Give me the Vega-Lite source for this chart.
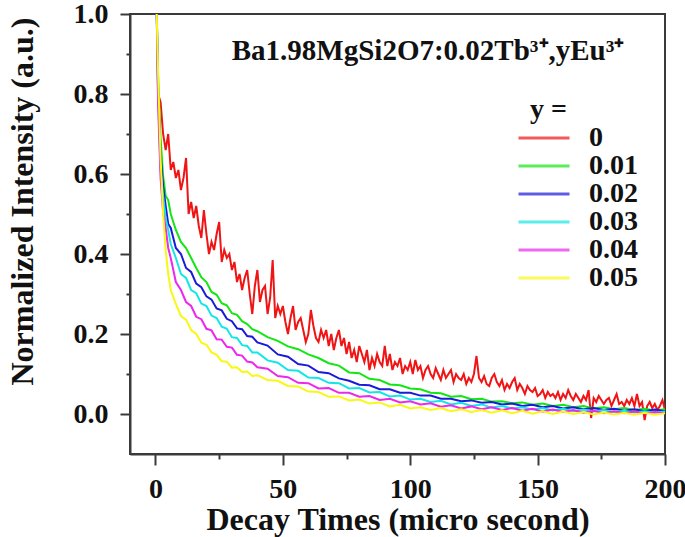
{
  "$schema": "https://vega.github.io/schema/vega-lite/v6.json",
  "width": 535,
  "height": 440,
  "autosize": {"type": "none"},
  "padding": {"left": 130, "top": 14, "right": 20, "bottom": 83},
  "background": "white",
  "config": {
    "view": {"stroke": "#3a3a3a", "strokeWidth": 2},
    "font": "Liberation Serif",
    "axis": {
      "grid": false,
      "domainColor": "#3a3a3a", "domainWidth": 2,
      "tickColor": "#3a3a3a", "tickWidth": 2,
      "labelFont": "Liberation Serif", "labelFontWeight": "bold", "labelFontSize": 28, "labelColor": "#111",
      "titleFont": "Liberation Serif", "titleFontWeight": "bold", "titleFontSize": 32, "titleColor": "#111",
      "labelOverlap": false, "labelFlush": false
    }
  },
  "layer": [
    {
      "data": {"values": [
        {"t":1,"conc":"0","v":0.8},{"t":2,"conc":"0","v":0.78},{"t":3,"conc":"0","v":0.7},{"t":4,"conc":"0","v":0.66},{"t":5,"conc":"0","v":0.7},
        {"t":6,"conc":"0","v":0.61},{"t":7,"conc":"0","v":0.63},{"t":8,"conc":"0","v":0.59},{"t":9,"conc":"0","v":0.61},{"t":10,"conc":"0","v":0.56},
        {"t":11,"conc":"0","v":0.59},{"t":12,"conc":"0","v":0.64},{"t":13,"conc":"0","v":0.5},{"t":14,"conc":"0","v":0.53},{"t":15,"conc":"0","v":0.49},
        {"t":16,"conc":"0","v":0.52},{"t":17,"conc":"0","v":0.47},{"t":18,"conc":"0","v":0.44},{"t":19,"conc":"0","v":0.51},{"t":20,"conc":"0","v":0.45},
        {"t":21,"conc":"0","v":0.4},{"t":22,"conc":"0","v":0.43},{"t":23,"conc":"0","v":0.41},{"t":24,"conc":"0","v":0.45},{"t":25,"conc":"0","v":0.48},
        {"t":26,"conc":"0","v":0.38},{"t":27,"conc":"0","v":0.41},{"t":28,"conc":"0","v":0.39},{"t":29,"conc":"0","v":0.4},{"t":30,"conc":"0","v":0.36},
        {"t":31,"conc":"0","v":0.38},{"t":32,"conc":"0","v":0.33},{"t":33,"conc":"0","v":0.35},{"t":34,"conc":"0","v":0.31},{"t":35,"conc":"0","v":0.34},
        {"t":36,"conc":"0","v":0.36},{"t":37,"conc":"0","v":0.3},{"t":38,"conc":"0","v":0.25},{"t":39,"conc":"0","v":0.32},{"t":40,"conc":"0","v":0.36},
        {"t":41,"conc":"0","v":0.28},{"t":42,"conc":"0","v":0.31},{"t":43,"conc":"0","v":0.32},{"t":44,"conc":"0","v":0.25},{"t":45,"conc":"0","v":0.29},
        {"t":46,"conc":"0","v":0.385},{"t":47,"conc":"0","v":0.24},{"t":48,"conc":"0","v":0.27},{"t":49,"conc":"0","v":0.25},{"t":50,"conc":"0","v":0.27},
        {"t":51,"conc":"0","v":0.23},{"t":52,"conc":"0","v":0.2},{"t":53,"conc":"0","v":0.24},{"t":54,"conc":"0","v":0.27},{"t":55,"conc":"0","v":0.21},
        {"t":56,"conc":"0","v":0.23},{"t":57,"conc":"0","v":0.24},{"t":58,"conc":"0","v":0.21},{"t":59,"conc":"0","v":0.18},{"t":60,"conc":"0","v":0.2},
        {"t":61,"conc":"0","v":0.26},{"t":62,"conc":"0","v":0.22},{"t":63,"conc":"0","v":0.19},{"t":64,"conc":"0","v":0.18},{"t":65,"conc":"0","v":0.21},
        {"t":66,"conc":"0","v":0.19},{"t":67,"conc":"0","v":0.21},{"t":68,"conc":"0","v":0.17},{"t":69,"conc":"0","v":0.2},{"t":70,"conc":"0","v":0.16},
        {"t":71,"conc":"0","v":0.19},{"t":72,"conc":"0","v":0.21},{"t":73,"conc":"0","v":0.17},{"t":74,"conc":"0","v":0.19},{"t":75,"conc":"0","v":0.15},
        {"t":76,"conc":"0","v":0.18},{"t":77,"conc":"0","v":0.14},{"t":78,"conc":"0","v":0.16},{"t":79,"conc":"0","v":0.13},{"t":80,"conc":"0","v":0.17},
        {"t":81,"conc":"0","v":0.15},{"t":82,"conc":"0","v":0.13},{"t":83,"conc":"0","v":0.16},{"t":84,"conc":"0","v":0.11},{"t":85,"conc":"0","v":0.14},
        {"t":86,"conc":"0","v":0.12},{"t":87,"conc":"0","v":0.15},{"t":88,"conc":"0","v":0.13},{"t":89,"conc":"0","v":0.12},{"t":90,"conc":"0","v":0.17},
        {"t":91,"conc":"0","v":0.12},{"t":92,"conc":"0","v":0.15},{"t":93,"conc":"0","v":0.11},{"t":94,"conc":"0","v":0.13},{"t":95,"conc":"0","v":0.12},
        {"t":96,"conc":"0","v":0.14},{"t":97,"conc":"0","v":0.1},{"t":98,"conc":"0","v":0.12},{"t":99,"conc":"0","v":0.11},{"t":100,"conc":"0","v":0.13},
        {"t":101,"conc":"0","v":0.1},{"t":102,"conc":"0","v":0.135},{"t":103,"conc":"0","v":0.11},{"t":104,"conc":"0","v":0.12},{"t":105,"conc":"0","v":0.09},
        {"t":106,"conc":"0","v":0.11},{"t":107,"conc":"0","v":0.12},{"t":108,"conc":"0","v":0.1},{"t":109,"conc":"0","v":0.09},{"t":110,"conc":"0","v":0.115},
        {"t":111,"conc":"0","v":0.1},{"t":112,"conc":"0","v":0.085},{"t":113,"conc":"0","v":0.11},{"t":114,"conc":"0","v":0.09},{"t":115,"conc":"0","v":0.1},
        {"t":116,"conc":"0","v":0.11},{"t":117,"conc":"0","v":0.08},{"t":118,"conc":"0","v":0.1},{"t":119,"conc":"0","v":0.09},{"t":120,"conc":"0","v":0.085},
        {"t":121,"conc":"0","v":0.1},{"t":122,"conc":"0","v":0.075},{"t":123,"conc":"0","v":0.09},{"t":124,"conc":"0","v":0.08},{"t":125,"conc":"0","v":0.1},
        {"t":126,"conc":"0","v":0.145},{"t":127,"conc":"0","v":0.09},{"t":128,"conc":"0","v":0.08},{"t":129,"conc":"0","v":0.095},{"t":130,"conc":"0","v":0.075},
        {"t":131,"conc":"0","v":0.07},{"t":132,"conc":"0","v":0.09},{"t":133,"conc":"0","v":0.1},{"t":134,"conc":"0","v":0.08},{"t":135,"conc":"0","v":0.07},
        {"t":136,"conc":"0","v":0.085},{"t":137,"conc":"0","v":0.06},{"t":138,"conc":"0","v":0.075},{"t":139,"conc":"0","v":0.065},{"t":140,"conc":"0","v":0.08},
        {"t":141,"conc":"0","v":0.09},{"t":142,"conc":"0","v":0.06},{"t":143,"conc":"0","v":0.075},{"t":144,"conc":"0","v":0.065},{"t":145,"conc":"0","v":0.05},
        {"t":146,"conc":"0","v":0.07},{"t":147,"conc":"0","v":0.06},{"t":148,"conc":"0","v":0.055},{"t":149,"conc":"0","v":0.065},{"t":150,"conc":"0","v":0.045},
        {"t":151,"conc":"0","v":0.05},{"t":152,"conc":"0","v":0.06},{"t":153,"conc":"0","v":0.04},{"t":154,"conc":"0","v":0.055},{"t":155,"conc":"0","v":0.045},
        {"t":156,"conc":"0","v":0.05},{"t":157,"conc":"0","v":0.04},{"t":158,"conc":"0","v":0.055},{"t":159,"conc":"0","v":0.035},{"t":160,"conc":"0","v":0.05},
        {"t":161,"conc":"0","v":0.04},{"t":162,"conc":"0","v":0.06},{"t":163,"conc":"0","v":0.045},{"t":164,"conc":"0","v":0.035},{"t":165,"conc":"0","v":0.05},
        {"t":166,"conc":"0","v":0.04},{"t":167,"conc":"0","v":0.03},{"t":168,"conc":"0","v":0.045},{"t":169,"conc":"0","v":0.035},{"t":170,"conc":"0","v":0.06},
        {"t":171,"conc":"0","v":-0.01},{"t":172,"conc":"0","v":0.04},{"t":173,"conc":"0","v":0.03},{"t":174,"conc":"0","v":0.045},{"t":175,"conc":"0","v":0.035},
        {"t":176,"conc":"0","v":0.025},{"t":177,"conc":"0","v":0.035},{"t":178,"conc":"0","v":0.04},{"t":179,"conc":"0","v":0.02},{"t":180,"conc":"0","v":0.035},
        {"t":181,"conc":"0","v":0.05},{"t":182,"conc":"0","v":0.025},{"t":183,"conc":"0","v":0.03},{"t":184,"conc":"0","v":0.02},{"t":185,"conc":"0","v":0.035},
        {"t":186,"conc":"0","v":0.025},{"t":187,"conc":"0","v":0.04},{"t":188,"conc":"0","v":0.02},{"t":189,"conc":"0","v":0.05},{"t":190,"conc":"0","v":0.02},
        {"t":191,"conc":"0","v":0.03},{"t":192,"conc":"0","v":-0.015},{"t":193,"conc":"0","v":0.02},{"t":194,"conc":"0","v":0.03},{"t":195,"conc":"0","v":0.015},
        {"t":196,"conc":"0","v":0.025},{"t":197,"conc":"0","v":0.01},{"t":198,"conc":"0","v":0.02},{"t":199,"conc":"0","v":0.035},{"t":200,"conc":"0","v":0.01},

        {"t":0.5,"conc":"0.01","v":1},{"t":1,"conc":"0.01","v":0.85},{"t":2,"conc":"0.01","v":0.69},{"t":3,"conc":"0.01","v":0.595},{"t":4,"conc":"0.01","v":0.545},
        {"t":5,"conc":"0.01","v":0.535},{"t":6,"conc":"0.01","v":0.5},{"t":8,"conc":"0.01","v":0.46},{"t":10,"conc":"0.01","v":0.43},{"t":12,"conc":"0.01","v":0.415},
        {"t":14,"conc":"0.01","v":0.39},{"t":16,"conc":"0.01","v":0.365},{"t":18,"conc":"0.01","v":0.342},{"t":20,"conc":"0.01","v":0.33},{"t":22,"conc":"0.01","v":0.305},
        {"t":24,"conc":"0.01","v":0.298},{"t":26,"conc":"0.01","v":0.277},{"t":28,"conc":"0.01","v":0.272},{"t":30,"conc":"0.01","v":0.252},{"t":32,"conc":"0.01","v":0.248},
        {"t":34,"conc":"0.01","v":0.232},{"t":36,"conc":"0.01","v":0.225},{"t":38,"conc":"0.01","v":0.212},{"t":40,"conc":"0.01","v":0.207},{"t":44,"conc":"0.01","v":0.192},
        {"t":48,"conc":"0.01","v":0.183},{"t":52,"conc":"0.01","v":0.169},{"t":56,"conc":"0.01","v":0.162},{"t":60,"conc":"0.01","v":0.149},{"t":64,"conc":"0.01","v":0.14},
        {"t":68,"conc":"0.01","v":0.127},{"t":72,"conc":"0.01","v":0.121},{"t":76,"conc":"0.01","v":0.104},{"t":80,"conc":"0.01","v":0.102},{"t":84,"conc":"0.01","v":0.088},
        {"t":88,"conc":"0.01","v":0.085},{"t":92,"conc":"0.01","v":0.074},{"t":96,"conc":"0.01","v":0.072},{"t":100,"conc":"0.01","v":0.064},{"t":104,"conc":"0.01","v":0.062},
        {"t":108,"conc":"0.01","v":0.053},{"t":112,"conc":"0.01","v":0.052},{"t":116,"conc":"0.01","v":0.043},{"t":120,"conc":"0.01","v":0.045},{"t":124,"conc":"0.01","v":0.037},
        {"t":128,"conc":"0.01","v":0.038},{"t":132,"conc":"0.01","v":0.031},{"t":136,"conc":"0.01","v":0.032},{"t":140,"conc":"0.01","v":0.027},{"t":144,"conc":"0.01","v":0.029},
        {"t":148,"conc":"0.01","v":0.023},{"t":152,"conc":"0.01","v":0.026},{"t":156,"conc":"0.01","v":0.02},{"t":160,"conc":"0.01","v":0.023},{"t":164,"conc":"0.01","v":0.017},
        {"t":168,"conc":"0.01","v":0.02},{"t":172,"conc":"0.01","v":0.014},{"t":176,"conc":"0.01","v":0.017},{"t":180,"conc":"0.01","v":0.012},{"t":184,"conc":"0.01","v":0.015},
        {"t":188,"conc":"0.01","v":0.01},{"t":192,"conc":"0.01","v":0.013},{"t":196,"conc":"0.01","v":0.009},{"t":200,"conc":"0.01","v":0.012},

        {"t":0.5,"conc":"0.02","v":1},{"t":1,"conc":"0.02","v":0.82},{"t":2,"conc":"0.02","v":0.65},{"t":3,"conc":"0.02","v":0.57},{"t":4,"conc":"0.02","v":0.52},
        {"t":5,"conc":"0.02","v":0.475},{"t":6,"conc":"0.02","v":0.465},{"t":8,"conc":"0.02","v":0.415},{"t":10,"conc":"0.02","v":0.4},{"t":12,"conc":"0.02","v":0.365},
        {"t":14,"conc":"0.02","v":0.355},{"t":16,"conc":"0.02","v":0.326},{"t":18,"conc":"0.02","v":0.317},{"t":20,"conc":"0.02","v":0.294},{"t":22,"conc":"0.02","v":0.286},
        {"t":24,"conc":"0.02","v":0.264},{"t":26,"conc":"0.02","v":0.259},{"t":28,"conc":"0.02","v":0.238},{"t":30,"conc":"0.02","v":0.232},{"t":32,"conc":"0.02","v":0.214},
        {"t":34,"conc":"0.02","v":0.212},{"t":36,"conc":"0.02","v":0.195},{"t":38,"conc":"0.02","v":0.193},{"t":40,"conc":"0.02","v":0.179},{"t":44,"conc":"0.02","v":0.171},
        {"t":48,"conc":"0.02","v":0.149},{"t":52,"conc":"0.02","v":0.143},{"t":56,"conc":"0.02","v":0.125},{"t":60,"conc":"0.02","v":0.121},{"t":64,"conc":"0.02","v":0.105},
        {"t":68,"conc":"0.02","v":0.102},{"t":72,"conc":"0.02","v":0.089},{"t":76,"conc":"0.02","v":0.083},{"t":80,"conc":"0.02","v":0.073},{"t":84,"conc":"0.02","v":0.072},
        {"t":88,"conc":"0.02","v":0.062},{"t":92,"conc":"0.02","v":0.062},{"t":96,"conc":"0.02","v":0.053},{"t":100,"conc":"0.02","v":0.053},{"t":104,"conc":"0.02","v":0.046},
        {"t":108,"conc":"0.02","v":0.046},{"t":112,"conc":"0.02","v":0.038},{"t":116,"conc":"0.02","v":0.038},{"t":120,"conc":"0.02","v":0.032},{"t":124,"conc":"0.02","v":0.034},
        {"t":128,"conc":"0.02","v":0.028},{"t":132,"conc":"0.02","v":0.03},{"t":136,"conc":"0.02","v":0.024},{"t":140,"conc":"0.02","v":0.026},{"t":144,"conc":"0.02","v":0.02},
        {"t":148,"conc":"0.02","v":0.023},{"t":152,"conc":"0.02","v":0.017},{"t":156,"conc":"0.02","v":0.02},{"t":160,"conc":"0.02","v":0.014},{"t":164,"conc":"0.02","v":0.017},
        {"t":168,"conc":"0.02","v":0.012},{"t":172,"conc":"0.02","v":0.015},{"t":176,"conc":"0.02","v":0.01},{"t":180,"conc":"0.02","v":0.013},{"t":184,"conc":"0.02","v":0.008},
        {"t":188,"conc":"0.02","v":0.012},{"t":192,"conc":"0.02","v":0.007},{"t":196,"conc":"0.02","v":0.011},{"t":200,"conc":"0.02","v":0.007},

        {"t":0.5,"conc":"0.03","v":1},{"t":1,"conc":"0.03","v":0.8},{"t":2,"conc":"0.03","v":0.61},{"t":3,"conc":"0.03","v":0.545},{"t":4,"conc":"0.03","v":0.49},
        {"t":5,"conc":"0.03","v":0.46},{"t":6,"conc":"0.03","v":0.425},{"t":8,"conc":"0.03","v":0.39},{"t":10,"conc":"0.03","v":0.35},{"t":12,"conc":"0.03","v":0.34},
        {"t":14,"conc":"0.03","v":0.31},{"t":16,"conc":"0.03","v":0.302},{"t":18,"conc":"0.03","v":0.276},{"t":20,"conc":"0.03","v":0.27},{"t":22,"conc":"0.03","v":0.246},
        {"t":24,"conc":"0.03","v":0.24},{"t":26,"conc":"0.03","v":0.218},{"t":28,"conc":"0.03","v":0.213},{"t":30,"conc":"0.03","v":0.192},{"t":32,"conc":"0.03","v":0.19},
        {"t":34,"conc":"0.03","v":0.172},{"t":36,"conc":"0.03","v":0.17},{"t":38,"conc":"0.03","v":0.154},{"t":40,"conc":"0.03","v":0.154},{"t":44,"conc":"0.03","v":0.134},
        {"t":48,"conc":"0.03","v":0.128},{"t":52,"conc":"0.03","v":0.11},{"t":56,"conc":"0.03","v":0.108},{"t":60,"conc":"0.03","v":0.091},{"t":64,"conc":"0.03","v":0.09},
        {"t":68,"conc":"0.03","v":0.078},{"t":72,"conc":"0.03","v":0.077},{"t":76,"conc":"0.03","v":0.064},{"t":80,"conc":"0.03","v":0.065},{"t":84,"conc":"0.03","v":0.054},
        {"t":88,"conc":"0.03","v":0.055},{"t":92,"conc":"0.03","v":0.044},{"t":96,"conc":"0.03","v":0.046},{"t":100,"conc":"0.03","v":0.036},{"t":104,"conc":"0.03","v":0.038},
        {"t":108,"conc":"0.03","v":0.03},{"t":112,"conc":"0.03","v":0.033},{"t":116,"conc":"0.03","v":0.024},{"t":120,"conc":"0.03","v":0.028},{"t":124,"conc":"0.03","v":0.02},
        {"t":128,"conc":"0.03","v":0.024},{"t":132,"conc":"0.03","v":0.016},{"t":136,"conc":"0.03","v":0.02},{"t":140,"conc":"0.03","v":0.014},{"t":144,"conc":"0.03","v":0.017},
        {"t":148,"conc":"0.03","v":0.011},{"t":152,"conc":"0.03","v":0.015},{"t":156,"conc":"0.03","v":0.009},{"t":160,"conc":"0.03","v":0.013},{"t":164,"conc":"0.03","v":0.007},
        {"t":168,"conc":"0.03","v":0.011},{"t":172,"conc":"0.03","v":0.006},{"t":176,"conc":"0.03","v":0.01},{"t":180,"conc":"0.03","v":0.005},{"t":184,"conc":"0.03","v":0.008},
        {"t":188,"conc":"0.03","v":0.004},{"t":192,"conc":"0.03","v":0.007},{"t":196,"conc":"0.03","v":0.003},{"t":200,"conc":"0.03","v":0.006},

        {"t":0.5,"conc":"0.04","v":1},{"t":1,"conc":"0.04","v":0.78},{"t":2,"conc":"0.04","v":0.59},{"t":3,"conc":"0.04","v":0.505},{"t":4,"conc":"0.04","v":0.465},
        {"t":5,"conc":"0.04","v":0.415},{"t":6,"conc":"0.04","v":0.39},{"t":8,"conc":"0.04","v":0.33},{"t":10,"conc":"0.04","v":0.31},{"t":12,"conc":"0.04","v":0.28},
        {"t":14,"conc":"0.04","v":0.27},{"t":16,"conc":"0.04","v":0.243},{"t":18,"conc":"0.04","v":0.237},{"t":20,"conc":"0.04","v":0.213},{"t":22,"conc":"0.04","v":0.209},
        {"t":24,"conc":"0.04","v":0.187},{"t":26,"conc":"0.04","v":0.186},{"t":28,"conc":"0.04","v":0.168},{"t":30,"conc":"0.04","v":0.166},{"t":32,"conc":"0.04","v":0.148},
        {"t":34,"conc":"0.04","v":0.146},{"t":36,"conc":"0.04","v":0.131},{"t":38,"conc":"0.04","v":0.129},{"t":40,"conc":"0.04","v":0.117},{"t":44,"conc":"0.04","v":0.113},
        {"t":48,"conc":"0.04","v":0.095},{"t":52,"conc":"0.04","v":0.092},{"t":56,"conc":"0.04","v":0.078},{"t":60,"conc":"0.04","v":0.077},{"t":64,"conc":"0.04","v":0.064},
        {"t":68,"conc":"0.04","v":0.065},{"t":72,"conc":"0.04","v":0.053},{"t":76,"conc":"0.04","v":0.053},{"t":80,"conc":"0.04","v":0.043},{"t":84,"conc":"0.04","v":0.045},
        {"t":88,"conc":"0.04","v":0.035},{"t":92,"conc":"0.04","v":0.038},{"t":96,"conc":"0.04","v":0.029},{"t":100,"conc":"0.04","v":0.032},{"t":104,"conc":"0.04","v":0.024},
        {"t":108,"conc":"0.04","v":0.027},{"t":112,"conc":"0.04","v":0.018},{"t":116,"conc":"0.04","v":0.022},{"t":120,"conc":"0.04","v":0.014},{"t":124,"conc":"0.04","v":0.019},
        {"t":128,"conc":"0.04","v":0.012},{"t":132,"conc":"0.04","v":0.017},{"t":136,"conc":"0.04","v":0.01},{"t":140,"conc":"0.04","v":0.015},{"t":144,"conc":"0.04","v":0.008},
        {"t":148,"conc":"0.04","v":0.013},{"t":152,"conc":"0.04","v":0.006},{"t":156,"conc":"0.04","v":0.011},{"t":160,"conc":"0.04","v":0.005},{"t":164,"conc":"0.04","v":0.01},
        {"t":168,"conc":"0.04","v":0.003},{"t":172,"conc":"0.04","v":0.008},{"t":176,"conc":"0.04","v":0.002},{"t":180,"conc":"0.04","v":0.007},{"t":184,"conc":"0.04","v":0.002},
        {"t":188,"conc":"0.04","v":0.006},{"t":192,"conc":"0.04","v":0.001},{"t":196,"conc":"0.04","v":0.005},{"t":200,"conc":"0.04","v":0.002},

        {"t":0.5,"conc":"0.05","v":1},{"t":1,"conc":"0.05","v":0.86},{"t":2,"conc":"0.05","v":0.64},{"t":3,"conc":"0.05","v":0.5},{"t":4,"conc":"0.05","v":0.41},
        {"t":5,"conc":"0.05","v":0.35},{"t":6,"conc":"0.05","v":0.31},{"t":8,"conc":"0.05","v":0.275},{"t":10,"conc":"0.05","v":0.245},{"t":12,"conc":"0.05","v":0.236},
        {"t":14,"conc":"0.05","v":0.21},{"t":16,"conc":"0.05","v":0.2},{"t":18,"conc":"0.05","v":0.178},{"t":20,"conc":"0.05","v":0.173},{"t":22,"conc":"0.05","v":0.154},
        {"t":24,"conc":"0.05","v":0.148},{"t":26,"conc":"0.05","v":0.132},{"t":28,"conc":"0.05","v":0.131},{"t":30,"conc":"0.05","v":0.116},{"t":32,"conc":"0.05","v":0.117},
        {"t":34,"conc":"0.05","v":0.105},{"t":36,"conc":"0.05","v":0.106},{"t":38,"conc":"0.05","v":0.095},{"t":40,"conc":"0.05","v":0.097},{"t":44,"conc":"0.05","v":0.085},
        {"t":48,"conc":"0.05","v":0.083},{"t":52,"conc":"0.05","v":0.07},{"t":56,"conc":"0.05","v":0.069},{"t":60,"conc":"0.05","v":0.056},{"t":64,"conc":"0.05","v":0.055},
        {"t":68,"conc":"0.05","v":0.043},{"t":72,"conc":"0.05","v":0.044},{"t":76,"conc":"0.05","v":0.034},{"t":80,"conc":"0.05","v":0.036},{"t":84,"conc":"0.05","v":0.026},
        {"t":88,"conc":"0.05","v":0.029},{"t":92,"conc":"0.05","v":0.019},{"t":96,"conc":"0.05","v":0.023},{"t":100,"conc":"0.05","v":0.014},{"t":104,"conc":"0.05","v":0.017},
        {"t":108,"conc":"0.05","v":0.01},{"t":112,"conc":"0.05","v":0.015},{"t":116,"conc":"0.05","v":0.007},{"t":120,"conc":"0.05","v":0.012},{"t":124,"conc":"0.05","v":0.005},
        {"t":128,"conc":"0.05","v":0.01},{"t":132,"conc":"0.05","v":0.003},{"t":136,"conc":"0.05","v":0.009},{"t":140,"conc":"0.05","v":0.002},{"t":144,"conc":"0.05","v":0.008},
        {"t":148,"conc":"0.05","v":0.001},{"t":152,"conc":"0.05","v":0.007},{"t":156,"conc":"0.05","v":0},{"t":160,"conc":"0.05","v":0.006},{"t":164,"conc":"0.05","v":0},
        {"t":168,"conc":"0.05","v":0.005},{"t":172,"conc":"0.05","v":-0.001},{"t":176,"conc":"0.05","v":0.004},{"t":180,"conc":"0.05","v":-0.001},{"t":184,"conc":"0.05","v":0.003},
        {"t":188,"conc":"0.05","v":-0.002},{"t":192,"conc":"0.05","v":0.003},{"t":196,"conc":"0.05","v":-0.002},{"t":200,"conc":"0.05","v":0.002}
      ]},
      "mark": {"type": "line", "strokeWidth": 2, "clip": true},
      "encoding": {
        "x": {
          "field": "t", "type": "quantitative",
          "scale": {"domain": [-10, 200], "nice": false, "zero": false},
          "axis": {
            "title": "Decay Times (micro second)",
            "values": [0, 25, 50, 75, 100, 125, 150, 175, 200],
            "labelExpr": "datum.value % 50 === 0 ? datum.label : ''",
            "tickSize": {"condition": {"test": "datum.value % 50 === 0", "value": 11}, "value": 5},
            "labelPadding": 10,
            "titlePadding": 1
          }
        },
        "y": {
          "field": "v", "type": "quantitative",
          "scale": {"domain": [-0.1, 1.0], "nice": false, "zero": false},
          "axis": {
            "title": "Normalized Intensity (a.u.)",
            "values": [0, 0.1, 0.2, 0.3, 0.4, 0.5, 0.6, 0.7, 0.8, 0.9, 1.0],
            "format": ".1f",
            "labelExpr": "round(datum.value * 10) % 2 === 0 ? datum.label : ''",
            "tickSize": {"condition": {"test": "round(datum.value * 10) % 2 === 0", "value": 10}, "value": 4},
            "labelPadding": 12,
            "titlePadding": 34,
            "titleY": 187
          }
        },
        "color": {
          "field": "conc", "type": "nominal",
          "scale": {
            "domain": ["0", "0.01", "0.02", "0.03", "0.04", "0.05"],
            "range": ["#f01414", "#14e614", "#1a1ad8", "#14e6e6", "#ec28ec", "#f8f814"]
          },
          "legend": {
            "orient": "none", "legendX": 400, "legendY": 82,
            "title": "\u00a0\u00a0y =", "titleFont": "Liberation Serif", "titleFontWeight": "bold", "titleFontSize": 28, "titleColor": "#111",
            "titleAnchor": "start", "titlePadding": 0,
            "labelFont": "Liberation Serif", "labelFontWeight": "bold", "labelFontSize": 28, "labelColor": "#111",
            "labelOffset": 31, "rowPadding": 0,
            "symbolType": "M-3,0H3", "symbolSize": 289, "symbolStrokeWidth": 3, "symbolOpacity": 0.7
          }
        }
      }
    },
    {
      "data": {"values": [{"label": "Ba1.98MgSi2O7:0.02Tb³⁺,yEu³⁺"}]},
      "mark": {"type": "text", "font": "Liberation Serif", "fontSize": 29, "fontWeight": "bold", "align": "center", "baseline": "alphabetic", "color": "#111"},
      "encoding": {
        "x": {"datum": 107, "type": "quantitative"},
        "y": {"datum": 0.885, "type": "quantitative"},
        "text": {"field": "label", "type": "nominal"}
      }
    }
  ]
}
